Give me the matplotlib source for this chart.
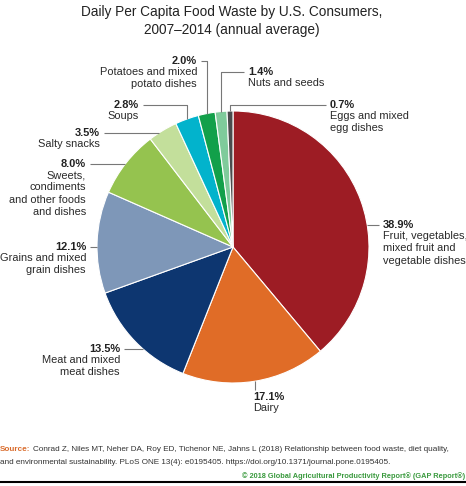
import numpy as np
import matplotlib.pyplot as plt

categories = ['Fruit, vegetables,\nmixed fruit and\nvegetable dishes', 'Dairy',
              'Meat and mixed\nmeat dishes', 'Grains and mixed\ngrain dishes',
              'Sweets,\ncondiments\nand other foods\nand dishes', 'Salty snacks', 'Soups',
              'Potatoes and mixed\npotato dishes', 'Nuts and seeds',
              'Eggs and mixed\negg dishes']
shares = [38.9, 17.1, 13.5, 12.1, 8.0, 3.5, 2.8, 2.0, 1.4, 0.7]
colors = ['#9d1c24', '#e06c27', '#0d3670', '#7e97b8', '#95c34f', '#c3df9b',
          '#02b3cc', '#12a04a', '#7fcb9b', '#4b4b4d']

W, H = 466, 486
CX, CY, R = 233, 247, 136

# label layout in pixels: (x of text edge, y of first line, side, leader kind)
label_pos = [(383, 225, 'left', 'h'), (253, 397, 'left', 'v'), (120, 349, 'right', 'h'),
             (86, 247, 'right', 'h'), (86, 164, 'right', 'h'), (100, 133, 'right', 'h'),
             (139, 105, 'right', 'elbow'), (197, 61, 'right', 'elbow'),
             (248, 72, 'left', 'elbow'), (330, 105, 'left', 'elbow')]

plt.rcParams['font.family'] = ['Liberation Sans', 'DejaVu Sans']
fig = plt.figure(figsize=(W / 100, H / 100), dpi=100)
ax = fig.add_axes([0, 0, 1, 1])


def Y(y):
    return H - y


ax.pie(shares, colors=colors, startangle=90, counterclock=False,
       center=(CX, Y(CY)), radius=R,
       wedgeprops=dict(edgecolor='white', linewidth=0.8))
ax.set_xlim(0, W)
ax.set_ylim(0, H)
ax.set_aspect('equal')
ax.axis('off')

line_kw = dict(color='#777777', lw=0.8, solid_capstyle='butt')
cum = np.cumsum([0] + shares)
for i, (name, val) in enumerate(zip(categories, shares)):
    tx, ty, side, kind = label_pos[i]
    ang = np.deg2rad((cum[i] + val / 2) / 100 * 360)
    mx, my = CX + R * np.sin(ang), CY - R * np.cos(ang)
    ha = 'left' if side == 'left' else 'right'
    ax.text(tx, Y(ty), f'{val:.1f}%', ha=ha, va='center', fontsize=7.9,
            fontweight='bold', color='#222222')
    ax.text(tx, Y(ty + 6), name, ha=ha, va='top', fontsize=7.9,
            color='#2a2a2a', linespacing=1.3)
    gap = 4 if side == 'right' else -4
    if kind == 'h':
        dx = np.sqrt(max(R ** 2 - (ty - CY) ** 2, 0))
        ex = CX - dx if side == 'right' else CX + dx
        ax.plot([tx + gap, ex], [Y(ty), Y(ty)], **line_kw)
    elif kind == 'elbow':
        ax.plot([tx + gap, mx, mx], [Y(ty), Y(ty), Y(my)], **line_kw)
    else:
        ax.plot([mx, mx], [Y(my), Y(ty - 7)], **line_kw)

fig.text(232 / W, 1 - 21 / H, 'Daily Per Capita Food Waste by U.S. Consumers,\n2007\u20132014 (annual average)',
         ha='center', va='center', fontsize=9.8, color='#222222', linespacing=1.35)

fig.text(0, 1 - 449 / H, 'Source:', ha='left', va='center', fontsize=5.9,
         fontweight='bold', color='#d96b2b')
fig.text(33 / W, 1 - 449 / H,
         'Conrad Z, Niles MT, Neher DA, Roy ED, Tichenor NE, Jahns L (2018) Relationship between food waste, diet quality,',
         ha='left', va='center', fontsize=5.9, color='#333333')
fig.text(0, 1 - 462 / H,
         'and environmental sustainability. PLoS ONE 13(4): e0195405. https://doi.org/10.1371/journal.pone.0195405.',
         ha='left', va='center', fontsize=5.9, color='#333333')
fig.text(465 / W, 1 - 476 / H,
         '\u00a9 2018 Global Agricultural Productivity Report\u00ae (GAP Report\u00ae)',
         ha='right', va='center', fontsize=5.3, fontweight='bold', color='#3a9a3e')
ax.plot([0, W], [Y(482.5), Y(482.5)], color='black', lw=1.5)

fig.savefig('out.png', dpi=100)
